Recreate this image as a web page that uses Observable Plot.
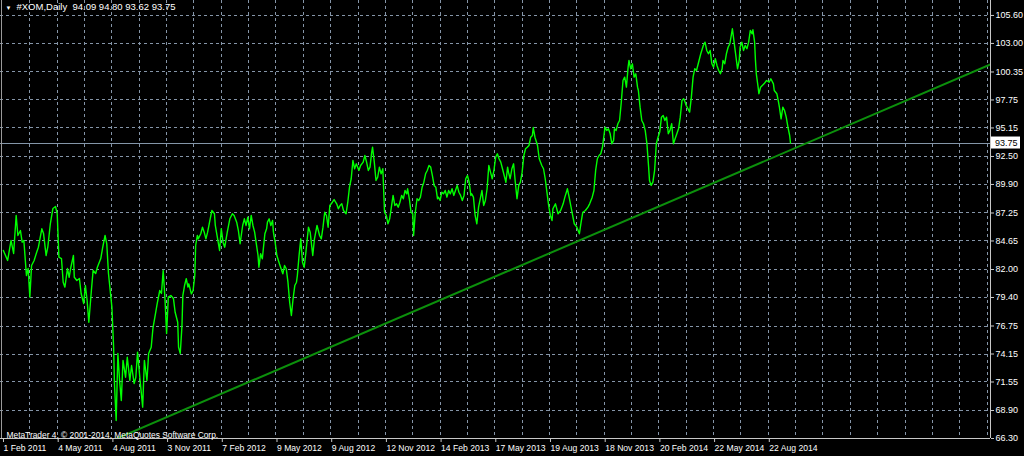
<!DOCTYPE html>
<html><head><meta charset="utf-8">
<script src="https://cdn.jsdelivr.net/npm/d3@7"></script>
<script src="https://cdn.jsdelivr.net/npm/@observablehq/plot@0.6"></script>
<style>
html,body{margin:0;padding:0;background:#000;}
#chart{width:1024px;height:456px;overflow:hidden;}
</style></head><body><div id="chart"></div>
<script>
const symbol = "#XOM", timeframe = "Daily";
const ohlc = [94.09, 94.80, 93.62, 93.75];
const lastClose = 93.75;
const copyright = "MetaTrader 4, © 2001-2014, MetaQuotes Software Corp.";
const priceLabels = ["105.60","103.00","100.35","97.75","95.15","92.50","89.90","87.25","84.65","82.00","79.40","76.75","74.15","71.55","68.90","66.30"];
const dateLabels = ["1 Feb 2011","4 May 2011","4 Aug 2011","3 Nov 2011","7 Feb 2012","9 May 2012","9 Aug 2012","12 Nov 2012","14 Feb 2013","17 May 2013","19 Aug 2013","18 Nov 2013","20 Feb 2014","22 May 2014","22 Aug 2014"];
const dateBars = [0,64,128,192,256,320,384,448,512,576,640,704,768,832,896];
// bar index (trading day) of each sampled close
const bars = [1,6,10,13,16,18,21,23,25,28,30,32,34,37,40,42,46,48,51,53,56,59,62,64,66,69,71,73,76,78,80,83,84,87,90,92,95,97,99,101,104,106,109,111,115,117,120,122,124,128,130,131,133,135,137,139,141,144,146,149,151,154,156,158,161,164,166,169,171,174,176,179,181,184,186,188,190,192,194,197,200,202,205,206,208,210,211,213,215,217,218,221,223,225,226,228,229,232,234,236,238,240,243,245,248,249,251,254,256,258,260,263,266,269,271,274,276,278,281,283,285,287,289,291,293,295,297,299,300,302,304,307,309,310,312,314,316,317,319,321,324,326,328,330,332,334,336,338,340,342,344,345,347,349,351,353,355,358,360,363,365,368,371,373,375,377,379,381,383,386,388,391,393,395,397,399,402,404,406,408,410,412,414,417,419,422,424,426,428,430,432,433,435,437,439,441,443,445,447,449,451,453,455,457,459,461,463,465,467,469,471,473,474,476,478,480,481,483,485,487,489,491,493,495,497,499,501,503,505,507,509,510,512,514,516,518,520,522,524,526,528,530,532,534,536,538,540,542,544,546,548,549,551,553,555,557,559,561,563,565,567,569,571,573,575,577,579,581,583,585,587,589,591,592,594,596,598,600,602,604,606,608,610,612,614,616,618,620,621,623,626,628,631,633,635,637,639,641,643,644,647,650,653,656,658,661,663,666,669,672,675,677,679,682,685,687,690,692,694,696,698,700,702,704,705,707,709,711,713,715,716,718,720,722,724,726,728,730,732,733,735,737,739,741,743,744,746,748,750,752,754,756,757,759,761,763,765,767,769,771,773,775,777,779,781,783,785,787,789,791,793,795,797,798,800,802,804,806,808,810,812,815,817,820,822,824,826,828,830,832,834,836,838,840,842,843,845,847,849,851,853,854,856,858,860,862,863,865,867,869,871,873,875,877,878,880,881,882,884,885,887,891,894,897,899,902,903,906,908,909,911,913,915,917,919,921,922];
const closes = [83.77,82.84,84.70,83.49,87.02,85.16,85.62,84.54,84.70,81.44,82.09,79.43,82.37,82.84,83.61,84.07,85.78,85.35,83.30,84.07,86.27,87.67,87.85,87.20,83.14,83.02,80.82,80.36,82.09,81.28,82.21,83.30,81.28,80.98,81.16,79.77,78.84,80.51,79.12,77.10,80.05,81.91,81.63,82.21,83.02,83.95,85.16,84.39,81.63,78.50,74.78,71.41,67.97,74.20,71.69,69.83,73.55,71.99,73.85,71.69,73.08,71.41,71.99,74.32,71.69,69.21,73.55,71.69,74.20,74.78,76.52,77.91,78.84,80.05,79.77,81.91,79.43,76.05,79.43,79.58,79.31,78.03,77.10,74.78,74.20,76.80,79.58,80.51,81.14,80.36,80.67,79.74,80.05,81.44,84.23,85.16,84.85,85.32,85.93,85.47,84.85,85.47,86.71,87.48,87.18,86.09,85.16,83.77,85.78,84.54,84.07,85.47,86.71,87.18,87.02,86.40,85.62,84.39,86.09,86.71,86.09,86.86,85.78,87.02,86.09,85.47,84.39,83.30,82.21,83.46,82.99,85.32,85.78,86.40,86.71,86.09,86.55,85.47,84.54,83.30,82.53,82.07,81.60,82.37,82.07,80.82,78.96,77.73,79.28,80.51,80.82,81.44,83.30,84.85,82.68,82.21,83.61,85.93,85.47,83.30,84.85,86.09,85.16,84.85,85.93,87.32,87.02,85.93,87.95,88.25,88.50,88.10,87.64,87.95,88.10,87.48,87.18,88.25,89.65,90.43,92.13,91.36,91.82,91.20,91.66,91.97,92.59,91.97,91.20,91.51,92.90,93.36,91.97,90.27,90.58,91.51,90.89,91.36,87.32,87.02,86.25,86.71,87.79,88.88,87.95,88.10,87.79,88.25,88.88,88.57,89.34,89.03,89.50,88.57,87.32,87.18,85.16,87.32,88.57,88.41,88.72,89.65,90.11,90.89,91.20,91.66,91.51,90.73,89.81,89.65,88.57,88.72,88.41,89.18,89.03,89.34,88.72,89.34,89.03,89.50,88.88,89.34,89.81,89.18,88.88,88.41,88.88,90.43,90.73,90.11,88.88,89.03,88.72,87.02,86.25,87.79,88.57,89.34,87.95,88.41,89.50,91.66,91.04,90.43,91.20,92.43,92.75,92.29,91.97,91.36,90.73,90.11,91.51,91.04,90.43,91.36,91.82,90.11,88.57,89.81,90.11,91.04,92.59,93.22,93.36,93.52,94.29,94.45,95.19,94.29,93.52,92.29,91.66,91.36,90.43,89.18,87.95,87.02,86.55,87.64,88.10,87.18,87.48,88.10,88.72,89.50,88.72,87.48,86.25,85.93,85.32,86.40,87.32,87.48,87.79,88.10,88.72,89.34,91.20,92.29,92.59,92.75,93.36,94.61,95.22,94.92,95.07,94.61,93.68,93.99,95.07,94.92,95.54,95.84,97.54,99.56,99.87,98.94,100.80,101.42,100.65,101.11,99.87,100.18,98.94,98.63,97.08,95.84,95.54,94.92,93.68,91.51,90.27,89.81,90.11,91.20,93.68,94.29,94.76,96.15,96.31,95.84,96.15,94.61,94.92,95.54,93.68,94.14,94.61,95.07,96.15,97.70,97.86,97.70,97.24,96.93,96.62,98.01,99.87,100.65,100.49,101.42,102.04,102.81,103.12,102.35,102.04,102.35,101.11,100.80,101.58,100.95,100.49,100.18,100.65,101.42,101.11,102.04,102.65,102.97,103.90,104.36,103.12,101.88,100.65,101.42,102.65,103.12,102.35,102.81,102.51,103.12,104.21,103.90,104.27,103.12,101.42,100.18,99.00,98.33,98.94,99.25,99.56,99.40,99.72,99.25,98.63,98.33,97.54,97.08,96.00,97.08,96.77,96.15,95.22,94.45,93.75];
// trend line anchors (bar index, price)
const trendBars = [128, 1156];
const trendPrices = [66.10, 101.05];

const n = Math.min(bars.length, closes.length);
const data = d3.range(n).map(i => ({bar: bars[i], close: closes[i]}));
const trend = trendBars.map((b, i) => ({bar: b, price: trendPrices[i]}));
const priceTicks = priceLabels.map(Number);
const gridBars = d3.range(32, 1153, 32);
const xDomain = [-2.34, 1156];
const yDomain = [66.30, 106.99];
const font = "'Liberation Sans Narrow','Arial Narrow','Liberation Sans',sans-serif";
const header = `${symbol},${timeframe}\u00a0\u00a0${ohlc.map(v => v.toFixed(2)).join(" ")}`;
const gridColor = "#8595a8";

const chart = Plot.plot({
  width: 1024, height: 456,
  marginLeft: 0, marginRight: 34, marginTop: 0, marginBottom: 18,
  style: {background: "#000", color: "#fff", fontFamily: font, fontSize: "9px"},
  x: {type: "linear", domain: xDomain},
  y: {domain: yDomain},
  marks: [
    Plot.ruleY(priceTicks, {stroke: gridColor, strokeDasharray: "3,3", strokeWidth: 1, shapeRendering: "crispEdges"}),
    Plot.ruleX(gridBars, {stroke: gridColor, strokeDasharray: "3,3", strokeWidth: 1, shapeRendering: "crispEdges"}),
    Plot.ruleY([lastClose], {stroke: "#8496a8", shapeRendering: "crispEdges"}),
    Plot.line(trend, {x: "bar", y: "price", stroke: "#0c900c", strokeWidth: 2, clip: true}),
    Plot.line(data, {x: "bar", y: "close", stroke: "#00ff00", strokeWidth: 1.4}),
    Plot.ruleX([xDomain[1]], {stroke: "#c8c8c8", shapeRendering: "crispEdges"}),
    Plot.ruleY([yDomain[0]], {stroke: "#c8c8c8", shapeRendering: "crispEdges"}),
    Plot.ruleX([xDomain[0] + 1.2], {stroke: "#9a9a9a", shapeRendering: "crispEdges"}),
    Plot.axisY({anchor: "right", ticks: priceTicks, tickFormat: d => priceLabels[priceTicks.indexOf(d)], tickSize: 3, tickPadding: 2, label: null, stroke: "#c8c8c8"}),
    Plot.axisX({anchor: "bottom", ticks: dateBars, tickFormat: d => dateLabels[dateBars.indexOf(d)], tickSize: 4, tickPadding: 2, textAnchor: "start", dx: 1, label: null, stroke: "#c8c8c8", fontSize: 8.6}),
    Plot.text(["\u25BC"], {frameAnchor: "top-left", dx: 5, dy: 5, fontSize: 6, fill: "#fff"}),
    Plot.text([header], {frameAnchor: "top-left", dx: 16, dy: 3, fill: "#fff", fontSize: 9.5}),
    Plot.text([copyright], {frameAnchor: "bottom-left", dx: 6, dy: -1, fill: "#fff", fontSize: 8.4})
  ]
});

// last-price label box on the price scale
const ys = chart.scale("y"), xs = chart.scale("x");
const yv = ys.apply(lastClose), xr = xs.range[1];
const g = d3.select(chart).append("g");
g.append("rect").attr("x", xr + 1).attr("y", yv - 6).attr("width", 29).attr("height", 12).attr("fill", "#fff");
g.append("text").attr("x", xr + 5).attr("y", yv).attr("dy", "0.35em").attr("fill", "#000")
  .attr("text-anchor", "start")
  .style("font-family", font).style("font-size", "9px").text(lastClose.toFixed(2));

document.getElementById("chart").append(chart);
</script></body></html>
